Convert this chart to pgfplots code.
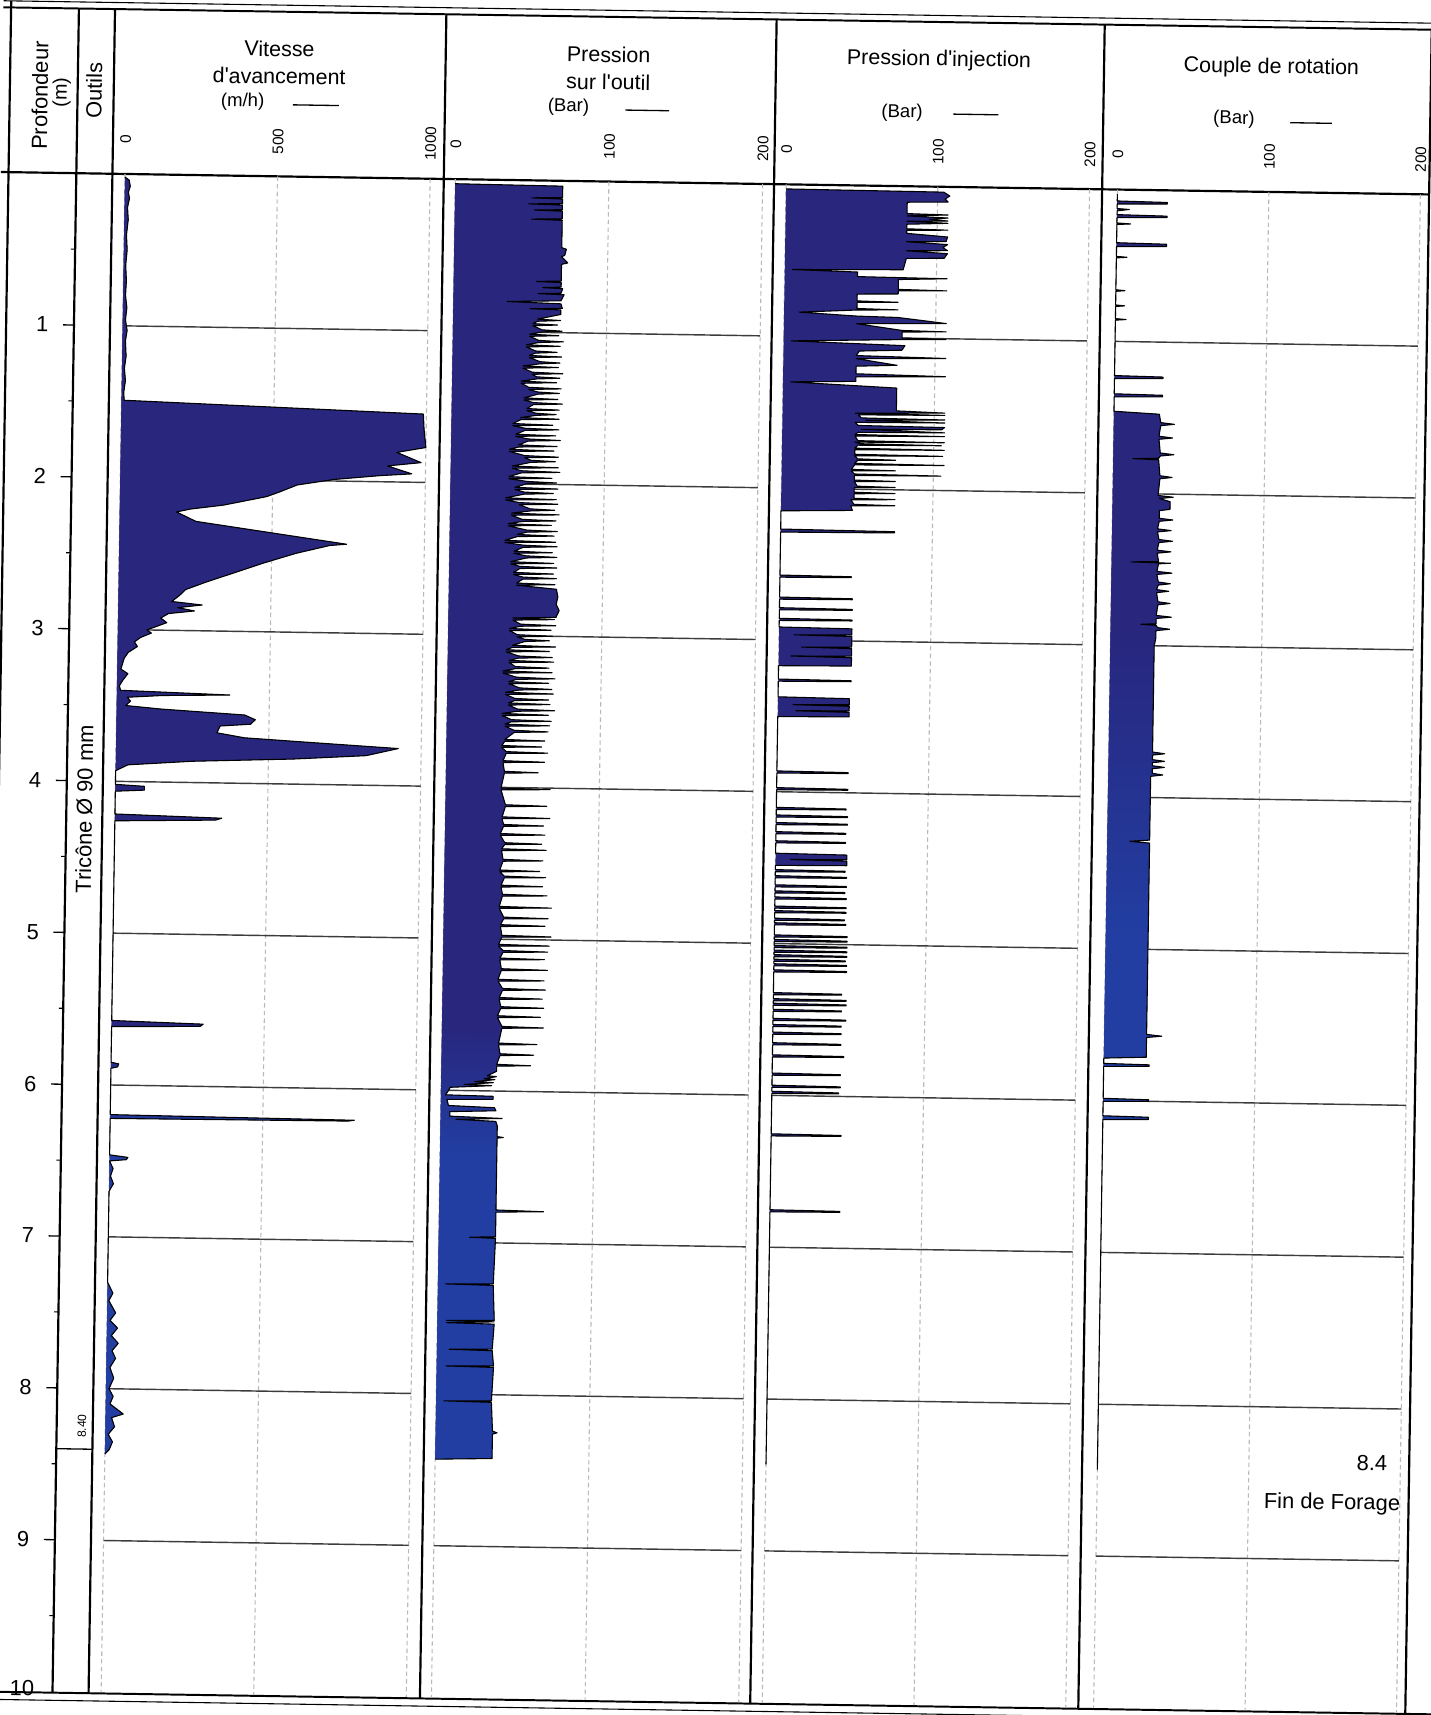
\documentclass[border=0pt]{standalone}
\usepackage{pgfplots}
\pgfplotsset{compat=1.18}
\usepackage{fontspec}
\setmainfont{Liberation Sans}
\definecolor{fillblue}{RGB}{40,38,125}
\definecolor{indc}{RGB}{40,38,125}
\definecolor{royc}{RGB}{34,62,162}
\definecolor{hgridc}{RGB}{60,60,60}
\definecolor{vgridc}{RGB}{185,185,185}
\pgfdeclareverticalshading{shtwo}{100bp}{color(0bp)=(royc); color(37bp)=(royc); color(42bp)=(indc); color(100bp)=(indc)}
\pgfdeclareverticalshading{shfour}{100bp}{color(0bp)=(royc); color(46bp)=(royc); color(58bp)=(indc); color(100bp)=(indc)}
\tikzset{
  hgrid/.style={hgridc, line width=0.65pt},
  vgrid/.style={vgridc, line width=0.5pt, dash pattern=on 2pt off 1.5pt},
  tlab/.style={rotate=90, font=\fontsize{7}{8}\selectfont, inner sep=0pt},
  frame/.style={black, line width=1.0pt},
  ttl/.style={font=\fontsize{9.8}{11}\selectfont, inner sep=0pt},
  unit/.style={font=\fontsize{8.5}{10}\selectfont, inner sep=0pt},
}
\pgfplotsset{
  panel/.style={scale only axis, height=694.2pt, ymin=0, ymax=10, y dir=reverse,
    hide axis, clip=false, anchor=north west},
  series/.style={draw=black, line width=0.5pt, line join=round, fill=fillblue},
}
\begin{document}
\begin{tikzpicture}[x=0.5pt,y=-0.5pt]
\fill[white] (0,0) rectangle (1308,1568);
\path[use as bounding box] (0,0) rectangle (1308,1568);
\begin{scope}[transform canvas={rotate around={-0.9:(654,850)}}]
% ---------- frame ----------
\draw[frame] (-3,11) -- (-3,1564);
\draw[line width=0.5pt] (-10,11) -- (1320,11);
\draw[line width=0.9pt] (-10,17) -- (1320,17);
\draw[frame] (-10,167.6) -- (1296,167.6);
\foreach \x in {59,92,395,697,997,1296} \draw[frame] (\x,17) -- (\x,1557);
% depth scale
\foreach \d in {1,...,9} {
  \draw[line width=0.6pt] (49,{167.6+138.84*\d}) -- (59,{167.6+138.84*\d});
  \node[font=\fontsize{10}{12}\selectfont, inner sep=0pt] at (30,{167.6+138.84*\d}) {\d};
}
\foreach \d in {0.5,1.5,...,9.5} {
  \draw[line width=0.5pt] (55,{167.6+138.84*\d}) -- (59,{167.6+138.84*\d});
}
\node[font=\fontsize{10}{12}\selectfont, inner sep=0pt] at (31,1553) {10};
% headers
\node[rotate=90, font=\fontsize{10}{12}\selectfont, inner sep=0pt] at (24.5,97) {Profondeur};
\node[rotate=90, font=\fontsize{9}{11}\selectfont, inner sep=0pt] at (44.5,94) {(m)};
\node[rotate=90, font=\fontsize{10}{12}\selectfont, inner sep=0pt] at (74,92) {Outils};
\node[ttl] at (243,51) {Vitesse};
\node[ttl] at (243,76) {d\textquotesingle avancement};
\node[unit] at (210,100) {(m/h)};
\draw[line width=0.6pt] (256,102) -- (298,102);
\node[ttl] at (544,51.5) {Pression};
\node[ttl] at (544,76.5) {sur l\textquotesingle outil};
\node[unit] at (508,100) {(Bar)};
\draw[line width=0.6pt] (560,102) -- (600,102);
\node[ttl] at (846,52) {Pression d\textquotesingle injection};
\node[unit] at (813,100.4) {(Bar)};
\draw[line width=0.6pt] (860,101) -- (901,101);
\node[ttl] at (1150,54) {Couple de rotation};
\node[unit] at (1116.5,101.6) {(Bar)};
\draw[line width=0.6pt] (1168,104) -- (1206,104);
% tools column
\node[rotate=90, font=\fontsize{10}{12}\selectfont, inner sep=0pt] at (75.5,749) {Tricône Ø 90 mm};
\draw[line width=0.6pt] (59,1333.9) -- (92,1333.9);
\node[rotate=90, font=\fontsize{5.5}{6}\selectfont, inner sep=0pt] at (82,1313) {8.40};
\node[font=\fontsize{10}{12}\selectfont, inner sep=0pt] at (1262,1328) {8.4};
\node[font=\fontsize{10}{12}\selectfont, inner sep=0pt] at (1226,1366) {Fin de Forage};
\draw[line width=0.9pt] (-10,1557) -- (1320,1557);
\draw[line width=0.5pt] (-10,1564) -- (1320,1564);

% ---------- Panel 1 : Vitesse d'avancement ----------
\begin{axis}[panel, at={(46pt,-83.8pt)}, width=151.5pt, xmin=-41.2, xmax=1044.8]
\draw[vgrid] (0,0) -- (0,10);
\draw[vgrid] (500,0) -- (500,10);
\draw[vgrid] (1000,0) -- (1000,10);
\pgfplotsinvokeforeach{1,...,9}{\draw[hgrid] (0,#1) -- (1000,#1);}
\node[tlab] at (0,-0.23) {0};
\node[tlab] at (500,-0.23) {500};
\node[tlab] at (1000,-0.23) {1000};
\addplot[series, shade, shading=shtwo] coordinates {
(0,0.02)(14,0.04)(18,0.08)(12,0.12)(16,0.16)(10,0.22)(13,0.3)(8,0.4)(11,0.5)(7,0.6)(10,0.7)(8,0.8)(13,0.88)(9,0.96)(15,1.03)(10,1.1)(13,1.2)(8,1.28)(12,1.36)(7,1.44)(9,1.49)
(990,1.55)(993,1.65)(1000,1.77)(905,1.805)(985,1.87)(875,1.895)(955,1.945)(850,1.96)(700,1.99)(580,2.03)(520,2.08)(480,2.11)(340,2.17)(230,2.2)(186,2.22)(250,2.28)(470,2.34)(635,2.385)(745,2.415)(690,2.425)(580,2.48)(470,2.55)(385,2.61)(285,2.68)(220,2.73)(200,2.77)(175,2.81)(275,2.83)(195,2.85)(250,2.87)(165,2.89)(140,2.92)(160,2.95)(95,3.0)(110,3.02)(75,3.05)(55,3.08)(65,3.11)(35,3.15)(22,3.19)(12,3.26)(35,3.29)(20,3.33)(8,3.37)(12,3.40)
(370,3.42)(150,3.43)(35,3.445)(45,3.47)(30,3.5)(150,3.52)(420,3.55)(455,3.58)(440,3.61)(340,3.625)(330,3.67)(420,3.7)(600,3.72)(925,3.755)(820,3.805)(580,3.835)(250,3.86)(40,3.89)(0,3.93)
(0,4.02)(95,4.03)(95,4.055)(0,4.065)(0,4.215)(350,4.232)(330,4.245)(0,4.26)(0,5.575)(300,5.59)(290,5.605)(0,5.615)(0,5.85)(25,5.86)(22,5.88)(0,5.89)(0,6.195)(800,6.207)(780,6.213)(0,6.22)(0,6.46)(60,6.475)(55,6.49)(0,6.5)(12,6.55)(4,6.6)(14,6.65)(0,6.7)
(0,7.3)(18,7.37)(5,7.42)(28,7.5)(10,7.55)(35,7.6)(15,7.65)(38,7.7)(18,7.75)(30,7.8)(12,7.86)(25,7.93)(10,8.0)(24,8.05)(14,8.1)(58,8.165)(20,8.19)(30,8.25)(10,8.3)(24,8.35)(14,8.4)(0,8.43)
};
\end{axis}

% ---------- Panel 2 : Pression sur l'outil ----------
\begin{axis}[panel, at={(197.5pt,-83.8pt)}, width=151pt, xmin=-7.47, xmax=207.47]
\draw[vgrid] (0,0) -- (0,10);
\draw[vgrid] (100,0) -- (100,10);
\draw[vgrid] (200,0) -- (200,10);
\pgfplotsinvokeforeach{1,...,9}{\draw[hgrid] (0,#1) -- (200,#1);}
\node[tlab] at (0,-0.23) {0};
\node[tlab] at (100,-0.23) {100};
\node[tlab] at (200,-0.23) {200};
\addplot[series, shade, shading=shtwo] coordinates {
(0,0.03)(70,0.035)(70,0.11)(50,0.115)(70,0.12)(70,0.15)(48,0.155)(70,0.16)(70,0.19)(52,0.195)(70,0.2)(70,0.25)(50,0.255)(70,0.26)(70,0.44)(73,0.45)(72,0.49)(70,0.5)(74,0.54)(70,0.55)(70,0.66)(54,0.665)(70,0.67)(70,0.7)(58,0.705)(71,0.71)(70,0.74)(55,0.745)(72,0.75)(70,0.79)(35,0.80)(70,0.81)(71,0.84)(50,0.845)(70,0.85)(70,0.88)
(55,0.913)(70,0.92)(55,0.927)(52,0.943)(68,0.95)(52,0.957)(58,0.983)(71,0.99)(58,0.997)(50,1.013)(69,1.02)(50,1.027)(56,1.053)(72,1.06)(56,1.067)(48,1.083)(70,1.09)(48,1.097)(54,1.123)(68,1.13)(54,1.137)(50,1.153)(71,1.16)(50,1.167)(57,1.193)(70,1.2)(57,1.207)(46,1.223)(69,1.23)(46,1.237)(52,1.263)(72,1.27)(52,1.277)(55,1.293)(70,1.3)(55,1.307)(45,1.323)(68,1.33)(45,1.337)(50,1.363)(71,1.37)(50,1.377)(56,1.393)(70,1.4)(56,1.407)(47,1.433)(69,1.44)(47,1.447)(53,1.463)(72,1.47)(53,1.477)(49,1.503)(70,1.51)(49,1.517)(55,1.533)(68,1.54)(55,1.547)(45,1.563)(70,1.57)(45,1.577)
(40,1.603)(66,1.61)(40,1.617)(48,1.633)(70,1.64)(48,1.647)(42,1.673)(68,1.68)(42,1.687)(50,1.703)(71,1.71)(50,1.717)(44,1.743)(69,1.75)(44,1.757)(38,1.773)(67,1.78)(38,1.787)(48,1.813)(70,1.82)(48,1.827)(52,1.843)(68,1.85)(52,1.857)(40,1.883)(70,1.89)(40,1.897)(46,1.913)(71,1.92)(46,1.927)(38,1.953)(66,1.96)(38,1.967)(50,1.983)(69,1.99)(50,1.997)(42,2.023)(70,2.03)(42,2.037)(48,2.053)(67,2.06)(48,2.067)(36,2.093)(69,2.1)(36,2.107)(45,2.123)(70,2.13)(45,2.137)(52,2.163)(68,2.17)(52,2.177)(40,2.193)(71,2.2)(40,2.207)(47,2.233)(69,2.24)(47,2.247)(38,2.263)(66,2.27)(38,2.277)(50,2.303)(70,2.31)(50,2.317)(44,2.333)(68,2.34)(44,2.347)(36,2.373)(69,2.38)(36,2.387)(48,2.403)(70,2.41)(48,2.417)(42,2.443)(67,2.45)(42,2.457)(50,2.473)(70,2.48)(50,2.487)(40,2.513)(68,2.52)(40,2.527)(46,2.543)(70,2.55)(46,2.557)
(42,2.583)(68,2.59)(42,2.597)(48,2.613)(70,2.62)(48,2.627)(44,2.653)(69,2.66)(44,2.667)
(70,2.69)(71,2.74)(70,2.79)(72,2.83)(70,2.875)
(42,2.883)(69,2.89)(42,2.897)(47,2.923)(70,2.93)(47,2.937)(40,2.953)(67,2.96)(40,2.967)(45,2.993)(68,3.0)(45,3.007)(50,3.023)(66,3.03)(50,3.037)(42,3.063)(70,3.07)(42,3.077)(38,3.093)(66,3.1)(38,3.107)(46,3.133)(68,3.14)(46,3.147)(40,3.163)(69,3.17)(40,3.177)(44,3.203)(66,3.21)(44,3.217)(36,3.233)(68,3.24)(36,3.247)(45,3.273)(70,3.28)(45,3.287)(40,3.303)(66,3.31)(40,3.317)(47,3.343)(68,3.35)(47,3.357)(38,3.373)(69,3.38)(38,3.387)(44,3.413)(66,3.42)(44,3.427)(40,3.443)(67,3.45)(40,3.457)(46,3.483)(70,3.49)(46,3.497)(36,3.513)(66,3.52)(36,3.527)(42,3.553)(68,3.56)(42,3.567)(38,3.583)(67,3.59)(38,3.597)(44,3.623)(66,3.63)(44,3.637)
(38,3.684)(64,3.69)(38,3.696)(36,3.724)(62,3.73)(36,3.736)(39,3.764)(66,3.77)(39,3.776)(37,3.824)(64,3.83)(37,3.836)(38,3.894)(60,3.9)(38,3.906)(36,4.004)(68,4.01)(36,4.016)(39,4.114)(66,4.12)(39,4.126)(37,4.194)(68,4.2)(37,4.206)(38,4.244)(64,4.25)(38,4.256)(36,4.304)(65,4.31)(36,4.316)(39,4.364)(63,4.37)(39,4.376)(37,4.404)(66,4.41)(37,4.416)(38,4.474)(64,4.48)(38,4.486)(36,4.544)(62,4.55)(36,4.556)(39,4.584)(66,4.59)(39,4.596)(37,4.644)(64,4.65)(37,4.656)(38,4.704)(67,4.71)(38,4.716)(36,4.784)(70,4.79)(36,4.796)(39,4.854)(68,4.86)(39,4.866)(37,4.904)(66,4.91)(37,4.916)(38,4.974)(70,4.98)(38,4.986)(36,5.034)(69,5.04)(36,5.046)(39,5.074)(68,5.08)(39,5.086)(37,5.124)(66,5.13)(37,5.136)(38,5.194)(68,5.2)(38,5.206)(36,5.264)(66,5.27)(36,5.276)(39,5.324)(67,5.33)(39,5.336)(37,5.384)(65,5.39)(37,5.396)(38,5.444)(66,5.45)(38,5.456)(36,5.504)(64,5.51)(36,5.516)(39,5.574)(66,5.58)(39,5.586)(37,5.684)(62,5.69)(37,5.696)(38,5.754)(60,5.76)(38,5.766)(36,5.824)(58,5.83)(36,5.836)
(36,5.87)(30,5.9)(36,5.905)(28,5.92)(35,5.925)(22,5.94)(34,5.945)(15,5.96)(33,5.965)(6,5.98)(5,6.0)(3,6.03)(34,6.035)(34,6.055)(4,6.06)(5,6.1)(35,6.11)(36,6.13)(6,6.14)(6,6.17)(40,6.18)(10,6.19)(36,6.2)(37,6.23)
(37,6.3)(41,6.305)(37,6.31)(37,6.55)(37,6.783)(68,6.79)(37,6.797)(37,6.96)(20,6.965)(37,6.97)(36,7.27)(5,7.275)(36,7.28)(37,7.51)(6,7.515)(37,7.52)(6,7.53)(37,7.535)(36,7.7)(8,7.705)(36,7.71)(37,7.81)(6,7.815)(37,7.82)(36,8.04)(5,8.045)(36,8.05)(37,8.24)(40,8.25)(37,8.26)(37,8.42)(0,8.43)
};
\end{axis}

% ---------- Panel 3 : Pression d'injection ----------
\begin{axis}[panel, at={(348.5pt,-83.8pt)}, width=150pt, xmin=-7.93, xmax=208.29]
\draw[vgrid] (0,0) -- (0,10);
\draw[vgrid] (100,0) -- (100,10);
\draw[vgrid] (200,0) -- (200,10);
\pgfplotsinvokeforeach{1,...,9}{\draw[hgrid] (0,#1) -- (200,#1);}
\node[tlab] at (0,-0.23) {0};
\node[tlab] at (100,-0.23) {100};
\node[tlab] at (200,-0.23) {200};
\addplot[series] coordinates {
(0,0.03)(104,0.035)(108,0.06)(105,0.08)(107,0.1)(80,0.105)(80,0.18)(107,0.185)(80,0.195)(107,0.205)(95,0.215)(107,0.225)(80,0.23)(107,0.24)(80,0.25)(80,0.28)(107,0.285)(80,0.29)(80,0.31)(107,0.33)(106,0.36)(80,0.365)(107,0.38)(104,0.40)(107,0.42)(80,0.425)(107,0.44)(105,0.47)(80,0.475)(78,0.55)
(5,0.56)(48,0.57)(48,0.6)(107,0.605)(75,0.615)(75,0.68)(107,0.685)(75,0.69)(75,0.71)(48,0.715)(48,0.76)(75,0.765)(48,0.77)(48,0.81)(75,0.815)(48,0.82)(10,0.84)(48,0.86)(75,0.865)(107,0.9)(75,0.905)(48,0.91)(78,0.95)(107,0.955)(78,0.96)(78,1.0)(107,1.005)(78,1.01)(5,1.03)(80,1.05)(78,1.08)(50,1.09)(48,1.12)(107,1.13)(48,1.14)(75,1.18)(48,1.19)(48,1.24)(107,1.25)(48,1.26)(48,1.29)(5,1.30)(75,1.33)(75,1.48)
(107,1.49)(48,1.50)(107,1.505)(50,1.51)(52,1.53)(107,1.535)(55,1.545)(107,1.555)(48,1.56)(50,1.58)(107,1.585)(105,1.6)(52,1.605)(107,1.62)(50,1.625)(48,1.64)(107,1.645)(48,1.65)(50,1.68)(107,1.685)(48,1.69)(52,1.7)(105,1.705)(50,1.71)(48,1.73)(107,1.735)(48,1.74)(48,1.77)(106,1.775)(48,1.78)(50,1.80)(75,1.805)(50,1.81)(48,1.83)(107,1.835)(48,1.84)(46,1.87)(75,1.875)(46,1.88)(48,1.9)(105,1.905)(48,1.91)(48,1.94)(75,1.945)(48,1.95)(50,1.98)(75,1.985)(48,1.99)(48,2.02)(75,2.025)(48,2.03)(48,2.06)(75,2.065)(46,2.07)(48,2.10)(75,2.105)(46,2.11)(47,2.14)(0,2.15)
(0,2.27)(75,2.276)(75,2.284)(0,2.29)
(0,2.573)(47,2.577)(47,2.583)(0,2.587)
(0,2.718)(48,2.722)(48,2.728)(0,2.732)
(0,2.788)(48,2.792)(48,2.798)(0,2.802)
(0,2.858)(48,2.862)(48,2.868)(0,2.872)
(0,2.915)(48,2.92)(48,2.96)(10,2.965)(48,2.97)(48,3.04)(15,3.045)(48,3.05)(48,3.10)(8,3.105)(48,3.11)(48,3.165)(0,3.17)
(0,3.258)(48,3.262)(48,3.268)(0,3.272)
(0,3.375)(47,3.38)(47,3.42)(10,3.425)(47,3.43)(47,3.46)(12,3.465)(47,3.47)(47,3.5)(0,3.505)
(0,3.863)(47,3.867)(47,3.873)(0,3.877)
(0,3.973)(47,3.977)(47,3.983)(0,3.987)
(0,4.103)(46,4.107)(46,4.113)(0,4.117)
(0,4.153)(47,4.157)(47,4.163)(0,4.167)
(0,4.203)(47,4.207)(47,4.213)(0,4.217)
(0,4.263)(46,4.267)(46,4.273)(0,4.277)
(0,4.323)(46,4.327)(46,4.333)(0,4.337)
(0,4.405)(47,4.41)(47,4.44)(10,4.445)(47,4.45)(47,4.48)(0,4.485)
(0,4.513)(46,4.517)(46,4.523)(0,4.527)
(0,4.553)(47,4.557)(47,4.563)(0,4.567)
(0,4.613)(47,4.617)(47,4.623)(0,4.627)
(0,4.653)(46,4.657)(46,4.663)(0,4.667)
(0,4.693)(47,4.697)(47,4.703)(0,4.707)
(0,4.753)(47,4.757)(47,4.763)(0,4.767)
(0,4.783)(47,4.787)(47,4.793)(0,4.797)
(0,4.833)(46,4.837)(46,4.843)(0,4.847)
(0,4.863)(47,4.867)(47,4.873)(0,4.877)
(0,4.943)(48,4.947)(48,4.953)(0,4.957)
(0,4.973)(48,4.977)(48,4.983)(0,4.987)
(0,5.013)(48,5.017)(48,5.023)(0,5.027)
(0,5.043)(48,5.047)(48,5.053)(0,5.057)
(0,5.073)(48,5.077)(48,5.083)(0,5.087)
(0,5.103)(47,5.107)(47,5.113)(0,5.117)
(0,5.133)(48,5.137)(48,5.143)(0,5.147)
(0,5.173)(48,5.177)(48,5.183)(0,5.187)
(0,5.323)(45,5.327)(45,5.333)(0,5.337)
(0,5.363)(48,5.367)(48,5.373)(0,5.377)
(0,5.393)(48,5.397)(48,5.403)(0,5.407)
(0,5.433)(45,5.437)(45,5.443)(0,5.447)
(0,5.493)(48,5.497)(48,5.503)(0,5.507)
(0,5.533)(45,5.537)(45,5.543)(0,5.547)
(0,5.583)(45,5.587)(45,5.593)(0,5.597)
(0,5.653)(45,5.657)(45,5.663)(0,5.667)
(0,5.733)(47,5.737)(47,5.743)(0,5.747)
(0,5.853)(45,5.857)(45,5.863)(0,5.867)
(0,5.933)(45,5.937)(45,5.943)(0,5.947)
(0,5.973)(44,5.977)(44,5.983)(0,5.987)
(0,6.253)(46,6.257)(46,6.263)(0,6.267)
(0,6.753)(46,6.757)(46,6.763)(0,6.767)
(0,8.43)
};
\end{axis}

% ---------- Panel 4 : Couple de rotation ----------
\begin{axis}[panel, at={(498.5pt,-83.8pt)}, width=149.5pt, xmin=-10.1, xmax=205.8]
\draw[vgrid] (0,0) -- (0,10);
\draw[vgrid] (100,0) -- (100,10);
\draw[vgrid] (200,0) -- (200,10);
\pgfplotsinvokeforeach{1,...,9}{\draw[hgrid] (0,#1) -- (200,#1);}
\node[tlab] at (0,-0.23) {0};
\node[tlab] at (100,-0.23) {100};
\node[tlab] at (200,-0.23) {200};
\addplot[series, shade, shading=shfour] coordinates {
(0,0.03)(0,0.075)(33,0.08)(33,0.09)(0,0.095)(0,0.125)(8,0.13)(0,0.14)(0,0.165)(33,0.17)(33,0.18)(0,0.185)(0,0.22)(9,0.225)(0,0.23)(0,0.35)(33,0.355)(33,0.37)(0,0.375)(0,0.44)(7,0.445)(0,0.45)(0,0.66)(6,0.665)(0,0.67)(0,0.76)(6,0.765)(0,0.77)(0,0.85)(7,0.855)(0,0.86)(0,1.225)(32,1.23)(32,1.24)(0,1.245)(0,1.345)(32,1.35)(32,1.36)(0,1.365)(0,1.46)(30,1.475)
(31,1.53)(40,1.54)(31,1.55)(30,1.62)(39,1.63)(30,1.64)(31,1.73)(40,1.74)(31,1.75)(30,1.765)(13,1.77)(30,1.775)(31,1.88)(39,1.89)(31,1.9)(30,2.01)(40,2.02)(31,2.03)(38,2.05)(38,2.1)(31,2.11)(31,2.16)(40,2.17)(31,2.18)(30,2.23)(39,2.24)(30,2.25)(31,2.3)(40,2.31)(31,2.32)(30,2.37)(39,2.38)(30,2.39)(31,2.445)(13,2.45)(39,2.455)(31,2.46)(30,2.51)(40,2.52)(30,2.53)(31,2.58)(39,2.59)(31,2.6)(30,2.63)(38,2.64)(30,2.65)(31,2.71)(39,2.72)(31,2.73)(30,2.8)(40,2.81)(30,2.82)(30,2.855)(20,2.86)(30,2.865)(31,2.88)(39,2.89)(30,2.9)(30,2.95)
(29,3.0)(29,3.7)(37,3.71)(29,3.72)(29,3.75)(37,3.76)(29,3.77)(29,3.79)(37,3.8)(29,3.81)(29,3.84)(36,3.85)(28,3.86)(28,4.28)(15,4.29)(28,4.3)(28,5.0)(28,5.56)(38,5.57)(28,5.58)(28,5.71)(0,5.72)
(0,5.755)(30,5.76)(30,5.77)(0,5.775)(0,5.985)(30,5.99)(30,6.0)(0,6.005)(0,6.1)(30,6.105)(30,6.12)(0,6.125)(0,8.43)
};
\end{axis}
\end{scope}
\end{tikzpicture}
\end{document}
